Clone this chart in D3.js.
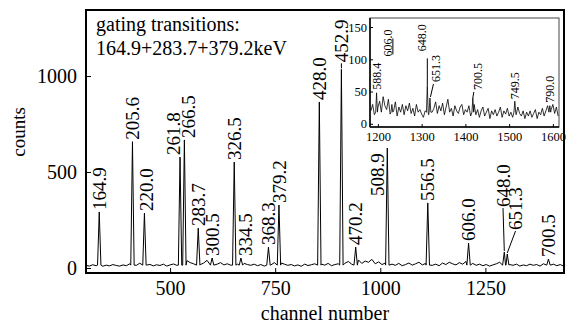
<!DOCTYPE html>
<html>
<head>
<meta charset="utf-8">
<script src="https://cdn.jsdelivr.net/npm/d3@7"></script>
<style>
body { margin: 0; background: #fff; }
</style>
</head>
<body>
<svg id="chart" width="567" height="333"></svg>
<script>
// main spectrum: background counts, one every 8 channels from channel 300
var bgStart = 300, bgStep = 8;
var bgCounts = [
  14, 10, 17, 12, 20, 9, 15, 11, 18, 13,
  10, 16, 12, 22, 18, 14, 25, 20, 15, 19,
  11, 17, 13, 20, 10, 16, 21, 14, 30, 45,
  38, 28, 22, 30, 18, 26, 40, 24, 32, 20,
  28, 16, 22, 15, 30, 20, 35, 24, 18, 14,
  20, 12, 18, 10, 22, 16, 28, 34, 26, 20,
  14, 18, 11, 16, 9, 20, 13, 17, 22, 26,
  20, 15, 24, 12, 18, 22, 30, 25, 34, 20,
  28, 42, 24, 36, 30, 45, 22, 32, 18, 26,
  30, 20, 14, 24, 12, 18, 26, 15, 22, 30,
  16, 24, 28, 14, 20, 12, 26, 18, 30, 22,
  16, 28, 20, 34, 18, 24, 14, 20, 12, 18,
  10, 16, 22, 30, 36, 26, 18, 14, 20, 10,
  16, 12, 20, 14, 18, 10, 22, 28, 16, 20,
  12, 18, 10
];
var peakChannels = [331.5, 410.5, 439, 523.7, 534, 567, 600, 652.6, 668.5, 734, 759, 855, 907.5, 941.5, 1016.7, 1113, 1210, 1295, 1302, 1400];
var peakCounts   = [292, 658, 286, 578, 667, 208, 52, 552, 52, 109, 328, 865, 1035, 109, 625, 339, 130, 83, 73, 47];
var peakLabels   = ["164.9", "205.6", "220.0", "261.8", "266.5", "283.7", "300.5", "326.5", "334.5", "368.3",
                    "379.2", "428.0", "452.9", "470.2", "508.9", "556.5", "606.0", "648.0", "651.3", "700.5"];
var baseLevel = 15;

// inset spectrum: background counts, one every 4 channels from channel 1184
var insetStart = 1184, insetStep = 4;
var insetCounts = [
  20, 30, 14, 40, 25, 35, 18, 42, 28, 22,
  38, 15, 30, 20, 34, 12, 26, 18, 30, 14,
  28, 20, 32, 16, 24, 12, 30, 18, 22, 15,
  10, 20, 26, 14, 30, 18, 24, 34, 16, 28,
  20, 32, 14, 26, 38, 18, 24, 12, 28, 20,
  16, 26, 30, 14, 22, 18, 28, 12, 24, 30,
  14, 22, 10, 20, 26, 12, 18, 24, 8, 20,
  14, 22, 12, 18, 26, 10, 20, 15, 24, 12,
  18, 10, 22, 14, 26, 16, 12, 20, 8, 18,
  12, 20, 10, 16, 22, 8, 18, 14, 24, 12,
  20, 28, 14, 22, 30, 16, 26, 12
];
var insetPeakChannels = [1197, 1232, 1313, 1319, 1417, 1513, 1593];
var insetPeakCounts   = [48, 30, 58, 40, 40, 35, 28];
var insetLabels       = ["588.4", "606.0", "648.0", "651.3", "700.5", "749.5", "790.0"];
var insetBase = 18;

var xTicks = [500, 750, 1000, 1250];
var yTicks = [0, 500, 1000];
var insetXTicks = [1200, 1300, 1400, 1500, 1600];
var insetYTicks = [0, 50, 100, 150];

var serif = "'Liberation Serif', 'DejaVu Serif', 'Times New Roman', serif";

var svg = d3.select("#chart");
svg.append("rect").attr("width", 567).attr("height", 333).attr("fill", "#fff");

var x = d3.scaleLinear().domain([300, 1437]).range([86, 564]);
var y = d3.scaleLinear().domain([-26, 1344]).range([273, 10]);

// build a spectrum from background points and narrow peaks
function spectrum(start, step, counts, pch, pct, half, base) {
  var pts = [];
  counts.forEach(function(c, i) {
    var ch = start + i * step;
    var near = pch.some(function(p) { return Math.abs(p - ch) <= half; });
    if (!near) pts.push([ch, c]);
  });
  pch.forEach(function(p, i) {
    pts.push([p - half, base]);
    pts.push([p, pct[i]]);
    pts.push([p + half, base]);
  });
  pts.sort(function(a, b) { return a[0] - b[0]; });
  return pts;
}

var mainPts = spectrum(bgStart, bgStep, bgCounts, peakChannels, peakCounts, 4, baseLevel);
var line = d3.line().x(function(d) { return x(d[0]); }).y(function(d) { return y(d[1]); });

svg.append("path")
  .datum(mainPts)
  .attr("fill", "none")
  .attr("stroke", "#000")
  .attr("stroke-width", 1)
  .attr("d", line);

// axes
var xAxis = svg.append("g")
  .attr("transform", "translate(0,273)")
  .call(d3.axisBottom(x).tickValues(xTicks).tickSizeInner(-5).tickSizeOuter(0).tickPadding(8).tickFormat(d3.format("d")));
var yAxis = svg.append("g")
  .attr("transform", "translate(86,0)")
  .call(d3.axisLeft(y).tickValues(yTicks).tickSizeInner(-5).tickSizeOuter(0).tickPadding(9).tickFormat(d3.format("d")));
[xAxis, yAxis].forEach(function(a) {
  a.select(".domain").remove();
  a.attr("font-family", serif).attr("font-size", 20);
  a.selectAll("text").attr("fill", "#000").style("font-family", serif).style("font-size", "20px");
  a.selectAll("line").attr("stroke", "#000");
});

// frame
svg.append("rect")
  .attr("x", 86).attr("y", 10).attr("width", 478).attr("height", 263)
  .attr("fill", "none").attr("stroke", "#000").attr("stroke-width", 2);

// peak labels
var labelNudge = { "220.0": 1.5, "261.8": -6.5, "266.5": 4, "334.5": 4, "508.9": -10, "648.0": -1.3, "651.3": 8.3 };
var labelLift = { "452.9": 7, "508.9": -48, "648.0": 45, "651.3": 24 };
peakLabels.forEach(function(lbl, i) {
  var px = x(peakChannels[i]), py = y(peakCounts[i]);
  var lift = labelLift[lbl] === undefined ? 2 : labelLift[lbl];
  var lx = px + (labelNudge[lbl] || 0);
  var ly = py - lift;
  svg.append("text")
    .attr("transform", "translate(" + lx + "," + ly + ") rotate(-90)")
    .attr("dy", "0.35em")
    .style("font-family", serif)
    .style("font-size", "19px")
    .text(lbl);
  if (lift > 3) {
    svg.append("line")
      .attr("x1", lx).attr("y1", ly + 1)
      .attr("x2", px).attr("y2", py - 1)
      .attr("stroke", "#000").attr("stroke-width", 1);
  }
});

// gate text
svg.append("text").attr("x", 96).attr("y", 31)
  .style("font-family", serif).style("font-size", "20px").text("gating transitions:");
svg.append("text").attr("x", 96).attr("y", 55)
  .style("font-family", serif).style("font-size", "20px").text("164.9+283.7+379.2keV");

// axis titles
svg.append("text")
  .attr("transform", "translate(25,132) rotate(-90)")
  .attr("text-anchor", "middle")
  .style("font-family", serif)
  .style("font-size", "19px")
  .text("counts");
svg.append("text")
  .attr("x", 325).attr("y", 320)
  .attr("text-anchor", "middle")
  .style("font-family", serif)
  .style("font-size", "20px")
  .text("channel number");

// ---- inset ----
var xi = d3.scaleLinear().domain([1182, 1614]).range([370, 559]);
var yi = d3.scaleLinear().domain([-5, 164]).range([127, 18]);

svg.append("rect")
  .attr("x", 370).attr("y", 18).attr("width", 189).attr("height", 109)
  .attr("fill", "#fff").attr("stroke", "#444").attr("stroke-width", 1);

var insetPts = spectrum(insetStart, insetStep, insetCounts, insetPeakChannels, insetPeakCounts, 2, insetBase);
var lineI = d3.line().x(function(d) { return xi(d[0]); }).y(function(d) { return yi(d[1]); });
svg.append("path")
  .datum(insetPts)
  .attr("fill", "none")
  .attr("stroke", "#000")
  .attr("stroke-width", 0.8)
  .attr("d", lineI);

var xiAxis = svg.append("g")
  .attr("transform", "translate(0,127)")
  .call(d3.axisBottom(xi).tickValues(insetXTicks).tickSizeInner(-3).tickSizeOuter(0).tickPadding(5).tickFormat(d3.format("d")));
var yiAxis = svg.append("g")
  .attr("transform", "translate(370,0)")
  .call(d3.axisLeft(yi).tickValues(insetYTicks).tickSizeInner(-3).tickSizeOuter(0).tickPadding(3).tickFormat(d3.format("d")));
[xiAxis, yiAxis].forEach(function(a) {
  a.select(".domain").remove();
  a.attr("font-family", serif).attr("font-size", 12.5);
  a.selectAll("text").attr("fill", "#000").style("font-family", serif).style("font-size", "12.5px");
  a.selectAll("line").attr("stroke", "#000");
});
svg.append("line").attr("x1", 370).attr("x2", 370).attr("y1", 18).attr("y2", 127)
  .attr("stroke", "#000").attr("stroke-width", 1.5);
svg.append("line").attr("x1", 370).attr("x2", 559).attr("y1", 127).attr("y2", 127)
  .attr("stroke", "#000").attr("stroke-width", 1.5);

var insetNudge = { "606.0": -4, "648.0": -6, "651.3": 5.5, "700.5": 5 };
var insetLift = { "588.4": 3, "606.0": 48, "648.0": 35, "651.3": 16, "700.5": 8, "749.5": 2, "790.0": 3 };
insetLabels.forEach(function(lbl, i) {
  var px = xi(insetPeakChannels[i]), py = yi(insetPeakCounts[i]);
  var lx = px + (insetNudge[lbl] || 0);
  var ly = py - insetLift[lbl];
  svg.append("text")
    .attr("transform", "translate(" + lx + "," + ly + ") rotate(-90)")
    .attr("dy", "0.35em")
    .style("font-family", serif)
    .style("font-size", "12px")
    .text(lbl);
});
// leader lines in the inset
var insetLeaders = [["606.0", 5, -18, 5, -2], ["648.0", 6, 7, 6, 35], ["651.3", -2, 2, -5, 15], ["700.5", -4, 2, -5, 8]];
insetLeaders.forEach(function(l) {
  var i = insetLabels.indexOf(l[0]);
  var lx = xi(insetPeakChannels[i]) + (insetNudge[l[0]] || 0);
  var ly = yi(insetPeakCounts[i]) - insetLift[l[0]];
  svg.append("line")
    .attr("x1", lx + l[1]).attr("y1", ly + l[2])
    .attr("x2", lx + l[3]).attr("y2", ly + l[4])
    .attr("stroke", "#000").attr("stroke-width", 1);
});
</script>
</body>
</html>
